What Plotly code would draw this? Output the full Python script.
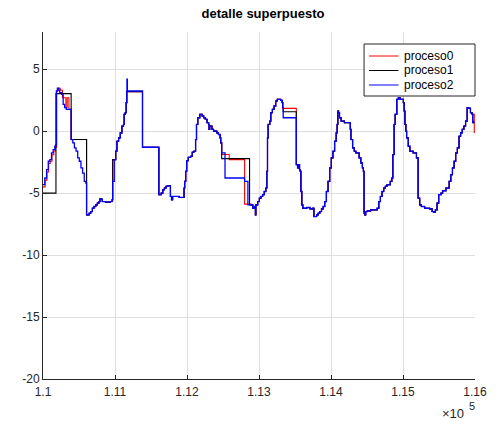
import plotly.graph_objects as go

# ---- proceso2 (blue) base trace, split by cycle ----
xa = [110000,110025,110050,110073,110095,110118,110141,110164,110177,110186,110200,110220,110232,110260,110280,
      110300,110323,110391,110414,110436,110459,110482,110504,110527,110550,110573,110595,110605,110641,110664,
      110686,110709,110732,110755,110777,110791,110809,110823,110868,110914,110936,110959]
ya = [-4.32,-3.78,-3.11,-2.43,-2.30,-1.76,-1.49,-1.22,-1.08,3.24,3.46,3.30,3.11,2.97,2.16,
      1.89,1.76,-0.68,-0.95,-1.35,-1.62,-2.16,-2.43,-2.97,-3.38,-4.05,-4.19,-6.76,-6.62,-6.49,
      -6.22,-6.08,-5.95,-5.81,-5.68,-5.46,-5.49,-5.68,-5.73,-5.73,-5.68,-5.54]

xb = [110968,110990,111010,111027,111050,111073,111096,111118,111127,111141,111155,111164,111166,111172,111382,
      111609,111641,111664,111686,111709,111732,111770,111785,111800,111846,111891,111946,111959,111968,111982]
yb = [-4.05,-2.30,-1.62,-0.81,-0.54,-0.14,0.41,0.54,1.35,1.49,2.30,3.24,4.19,3.24,-1.30,
      -5.13,-5.00,-4.73,-4.59,-4.46,-4.41,-5.27,-5.54,-5.27,-5.27,-5.35,-5.35,-4.59,-4.05,-3.24]

xc = [111996,112018,112050,112073,112096,112119,112132,112150,112178,112210,112232,112255,112278,112300,112306,
      112316,112346,112369,112414,112437,112460,112469,112482,112528,112800,112846,112891,112914,112937,112950,
      112957,112982,113005,113028,113050,113073]
yc = [-2.38,-2.11,-2.03,-1.70,-1.62,-0.68,0.54,1.08,1.35,1.22,1.08,0.95,0.68,0.54,0.14,
      0.41,0.14,0.00,-0.14,-0.27,-0.54,-0.95,-1.76,-3.78,-4.05,-5.95,-5.95,-6.22,-6.08,-6.76,
      -5.95,-5.68,-5.41,-5.27,-5.13,-4.87]

xd = [113095,113109,113118,113127,113150,113164,113186,113209,113232,113254,113300,113322,113330,113336,113518,
      113536,113550,113563,113572,113582,113595,113609,113663,113709,113745,113763,113800,113822,113845,113868,
      113891,113913,113936,113959,113982,114004,114027,114050,114072,114085]
yd = [-4.59,-3.24,-0.54,0.54,0.81,1.49,1.76,2.03,2.43,2.57,2.49,2.30,1.89,1.08,-2.70,
      -2.97,-2.70,-3.11,-3.24,-4.87,-5.95,-6.22,-6.16,-6.27,-6.22,-6.89,-6.76,-6.62,-6.49,-6.27,
      -6.08,-5.68,-4.87,-4.05,-2.97,-2.16,-1.62,-0.81,-0.14,0.54]

xe = [114095,114105,114118,114141,114186,114255,114268,114277,114300,114323,114345,114391,114414,114436,114450,
      114459,114468,114482,114505,114550,114641,114664,114686,114709,114732,114755,114777,114823,114845,114859,
      114877,114891,114914,114936,114959]
ye = [1.62,1.49,1.08,0.81,0.68,0.68,0.14,-0.68,-1.35,-1.62,-1.76,-2.16,-2.57,-2.97,-3.24,
      -6.62,-6.76,-6.49,-6.43,-6.35,-6.22,-5.68,-5.27,-4.87,-4.59,-4.46,-4.33,-4.05,-3.78,-1.89,
      0.54,1.35,2.57,2.70,2.57]

xf = [115005,115016,115027,115040,115050,115073,115096,115141,115187,115210,115232,115255,115300,115369,115405,
      115428,115450,115473,115496,115528,115550,115596,115641,115664,115687,115710,115732,115755,115778,115800,
      115823,115846,115869,115891,115914,115937,115960,115969,115982]
yf = [2.30,1.62,0.54,0.00,-0.54,-1.22,-1.62,-1.76,-2.16,-5.41,-5.95,-6.08,-6.22,-6.27,-6.49,
      -6.54,-6.35,-5.81,-5.13,-5.00,-4.81,-4.59,-4.05,-3.51,-2.97,-2.43,-1.76,-1.35,-0.41,-0.14,
      0.14,0.41,0.81,1.89,1.84,1.49,1.35,0.68,0.81]

# ---- where proceso0 (red) differs from proceso2 ----
red_a_x = [110000,110030,110055,110078,110100,110125,110150,110172,110190,110205,110240,110270,110318,110336,110360,110391]
red_a_y = [-4.50,-3.95,-3.30,-2.60,-2.43,-1.90,-1.60,-1.30,3.24,3.46,3.30,2.70,1.89,2.70,1.76,-0.68]
red_b_x, red_b_y = [110968], [-2.30]
red_top_x, red_top_y = [111164], [3.19]
red_c_x = [112482,112587,112800]
red_c_y = [-1.89,-2.30,-5.89]
red_d_x, red_d_y = [113336], [1.84]
red_f_x = [115969,115990]
red_f_y = [1.35,-0.14]

# ---- where proceso1 (black) differs from proceso2 ----
blk_a_x = [110000,110180,110391]
blk_a_y = [-5.00,3.03,-0.68]
blk_b_x, blk_b_y = [110968], [-2.30]
blk_top_x, blk_top_y = [111164], [3.19]
blk_c_x = [112482,112869]
blk_c_y = [-2.22,-5.95]
blk_d_x, blk_d_y = [113336], [1.57]

x_ticks = [110000,111000,112000,113000,114000,115000,116000]
x_labels = ["1.1","1.11","1.12","1.13","1.14","1.15","1.16"]
y_ticks = [-20,-15,-10,-5,0,5]
y_labels = ["-20","-15","-10","-5","0","5"]

series_names = ["proceso0", "proceso1", "proceso2"]
series_colors = ["#ff0000", "#000000", "#0000ff"]
series_widths = [1.1, 1.1, 1.3]

base_x = xa + xb + xc + xd + xe + xf
base_y = ya + yb + yc + yd + ye + yf


def compose(bx, by, overrides):
    pts = [(x, y) for x, y in zip(bx, by)
           if not any(s <= x < e for s, e, _, _ in overrides)]
    for s, e, ox, oy in overrides:
        pts += list(zip(ox, oy))
    pts.sort(key=lambda p: p[0])
    return [p[0] for p in pts], [p[1] for p in pts]


red_x, red_y = compose(base_x, base_y, [
    (110000, 110600, red_a_x, red_a_y),
    (110968, 110990, red_b_x, red_b_y),
    (111164, 111382, red_top_x, red_top_y),
    (112482, 112891, red_c_x, red_c_y),
    (113336, 113518, red_d_x, red_d_y),
    (115969, 116001, red_f_x, red_f_y),
])
blk_x, blk_y = compose(base_x, base_y, [
    (110000, 110600, blk_a_x, blk_a_y),
    (110968, 110990, blk_b_x, blk_b_y),
    (111164, 111382, blk_top_x, blk_top_y),
    (112482, 112891, blk_c_x, blk_c_y),
    (113336, 113518, blk_d_x, blk_d_y),
])

fig = go.Figure()
for (sx, sy), nm, col, w in zip([(red_x, red_y), (blk_x, blk_y), (base_x, base_y)],
                                series_names, series_colors, series_widths):
    fig.add_trace(go.Scatter(x=sx, y=sy, mode='lines', name=nm, showlegend=False,
                             line=dict(color=col, width=w, shape='hv')))

axis_common = dict(ticks='inside', ticklen=4, tickcolor='#262626', showline=True,
                   linecolor='#262626', linewidth=1, showgrid=True, gridcolor='#dfdfdf',
                   gridwidth=1, zeroline=False, mirror=False,
                   tickfont=dict(size=12, color='#262626'))

# plot area in pixels: left 43, right 483, top 32, bottom 379
PW, PH = 440.0, 347.0


def px(xp):
    return (xp - 43) / PW


def py(yp):
    return (379 - yp) / PH


shapes = [dict(type='rect', xref='paper', yref='paper',
               x0=px(370), x1=px(483), y0=py(96), y1=py(44),
               line=dict(color='#262626', width=1), fillcolor='white', layer='above')]
annotations = []
for i, (nm, col) in enumerate(zip(series_names, series_colors)):
    yy = 56 + 14.5 * i
    shapes.append(dict(type='line', xref='paper', yref='paper',
                       x0=px(375), x1=px(405), y0=py(yy), y1=py(yy),
                       line=dict(color=col, width=1), layer='above'))
    annotations.append(dict(text=nm, x=px(409), xref='paper', xanchor='left',
                            y=py(yy), yref='paper', yanchor='middle', showarrow=False,
                            font=dict(size=12, color='#000000')))

annotations.append(dict(text='×10', x=px(474), xref='paper', xanchor='right',
                        y=py(413), yref='paper', yanchor='middle', showarrow=False,
                        font=dict(size=13, color='#262626')))
annotations.append(dict(text='5', x=px(475), xref='paper', xanchor='left',
                        y=py(406), yref='paper', yanchor='middle', showarrow=False,
                        font=dict(size=11, color='#262626')))

fig.update_layout(
    width=499, height=421,
    margin=dict(l=43, r=16, t=32, b=42),
    paper_bgcolor='white', plot_bgcolor='white',
    font=dict(family='Liberation Sans, Arial, Helvetica, sans-serif', size=12, color='#262626'),
    title=dict(text='<b>detalle superpuesto</b>', x=263/499, xanchor='center',
               y=1-13/421, yanchor='middle', font=dict(size=13, color='#000000')),
    xaxis=dict(range=[110000, 116000], tickvals=x_ticks, ticktext=x_labels,
               ticklabelstandoff=2, **axis_common),
    yaxis=dict(range=[-20, 8], tickvals=y_ticks, ticktext=y_labels, **axis_common),
    showlegend=False,
    shapes=shapes,
    annotations=annotations,
)

fig.write_html("out.html")
